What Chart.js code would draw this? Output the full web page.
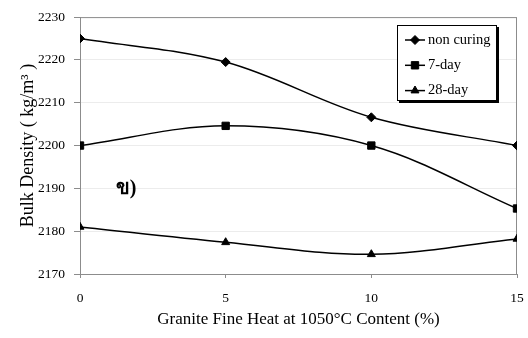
<!DOCTYPE html>
<html>
<head>
<meta charset="utf-8">
<script src="https://cdn.jsdelivr.net/npm/chart.js@4"></script>
<style>
  html, body { margin: 0; padding: 0; background: #fff; }
  #wrap { width: 528px; height: 338px; }
</style>
</head>
<body>
<div id="wrap"><canvas id="grafico"></canvas></div>
<script>
const contents = [0, 5, 10, 15];
const nonCuring = [2225, 2219.5, 2206.6, 2200];
const sevenDay = [2200, 2204.6, 2200, 2185.3];
const twentyEightDay = [2181, 2177.4, 2174.6, 2178.2];
const seriesNames = ['non curing', '7-day', '28-day'];
const yTicks = [2170, 2180, 2190, 2200, 2210, 2220, 2230];
const xTicks = [0, 5, 10, 15];
const panelMark = { text: 'ข)', x: 1.58, y: 2190 };

Chart.defaults.font.family = '"Liberation Serif", "Times New Roman", serif';
Chart.defaults.color = '#000';

const toPoints = vals => vals.map((v, i) => ({ x: contents[i], y: v }));

function serie(label, vals, style, radius) {
  return {
    label: label,
    data: toPoints(vals),
    borderColor: '#000',
    backgroundColor: '#000',
    borderWidth: 1.5,
    tension: 0.35,
    pointStyle: style,
    pointRadius: radius,
    pointHoverRadius: radius,
    pointBorderWidth: 1
  };
}

// borda da area do grafico + legenda com caixa e sombra + marca "ข)"
const extras = {
  id: 'extras',
  beforeDatasetsDraw(chart) {
    const a = chart.chartArea, ctx = chart.ctx;
    ctx.save();
    ctx.strokeStyle = '#8c8c8c';
    ctx.lineWidth = 1;
    ctx.strokeRect(a.left + 0.5, a.top + 0.5, a.right - a.left - 1, a.bottom - a.top);
    ctx.restore();
  },
  afterDraw(chart) {
    const ctx = chart.ctx;
    const bx = 397, by = 25, bw = 100, bh = 76;
    ctx.save();
    ctx.fillStyle = '#000';
    ctx.fillRect(bx + 2, by + 2, bw, bh);
    ctx.fillStyle = '#fff';
    ctx.fillRect(bx, by, bw, bh);
    ctx.strokeStyle = '#000';
    ctx.lineWidth = 1;
    ctx.strokeRect(bx + 0.5, by + 0.5, bw - 1, bh - 1);
    chart.data.datasets.forEach((ds, i) => {
      const cy = 40 + i * 25.3;
      ctx.strokeStyle = '#000';
      ctx.fillStyle = '#000';
      ctx.lineWidth = 1.5;
      ctx.beginPath();
      ctx.moveTo(405, cy);
      ctx.lineTo(425, cy);
      ctx.stroke();
      ctx.lineWidth = 1;
      Chart.helpers.drawPoint(ctx, { pointStyle: ds.pointStyle, radius: ds.pointRadius, borderWidth: 1 }, 415, cy);
      ctx.font = '14.5px "Liberation Serif", serif';
      ctx.textBaseline = 'middle';
      ctx.textAlign = 'left';
      ctx.fillText(ds.label, 428, cy);
    });
    const xs = chart.scales.x, ys = chart.scales.y;
    ctx.fillStyle = '#000';
    ctx.font = 'bold 20px "Liberation Serif", "Noto Sans", serif';
    ctx.textAlign = 'center';
    ctx.textBaseline = 'middle';
    ctx.fillText(panelMark.text, xs.getPixelForValue(panelMark.x), ys.getPixelForValue(panelMark.y));
    ctx.restore();
  }
};

new Chart(document.getElementById('grafico'), {
  type: 'line',
  data: {
    datasets: [
      serie(seriesNames[0], nonCuring, 'rectRot', 4.5),
      serie(seriesNames[1], sevenDay, 'rect', 5.2),
      serie(seriesNames[2], twentyEightDay, 'triangle', 4.6)
    ]
  },
  options: {
    responsive: true,
    maintainAspectRatio: false,
    animation: false,
    layout: { padding: { top: 14, right: 11, left: 0, bottom: 0 } },
    plugins: {
      legend: { display: false },
      tooltip: { enabled: false }
    },
    scales: {
      x: {
        type: 'linear',
        min: 0,
        max: 15,
        afterBuildTicks: s => { s.ticks = xTicks.map(v => ({ value: v })); },
        afterFit: s => { s.height = 64; s.paddingLeft = 0; s.paddingRight = 0; },
        ticks: { font: { size: 13.5 }, padding: 12, callback: v => String(v) },
        grid: { drawOnChartArea: false, tickLength: 4, tickColor: '#8c8c8c' },
        border: { color: '#8c8c8c' },
        title: {
          display: true,
          text: 'Granite Fine Heat at 1050°C Content (%)',
          font: { size: 17 },
          padding: { top: 0, bottom: 8 }
        }
      },
      y: {
        min: 2170,
        max: 2230,
        afterBuildTicks: s => { s.ticks = yTicks.map(v => ({ value: v })); },
        afterFit: s => { s.width = 80; },
        ticks: { font: { size: 13.5 }, padding: 9, callback: v => String(v) },
        grid: { color: '#ececec', tickLength: 6, tickColor: '#8c8c8c' },
        border: { color: '#8c8c8c' },
        title: {
          display: true,
          text: 'Bulk Density ( kg/m³ )',
          font: { size: 18 },
          padding: { top: 17, bottom: 0 }
        }
      }
    }
  },
  plugins: [extras]
});
</script>
</body>
</html>
